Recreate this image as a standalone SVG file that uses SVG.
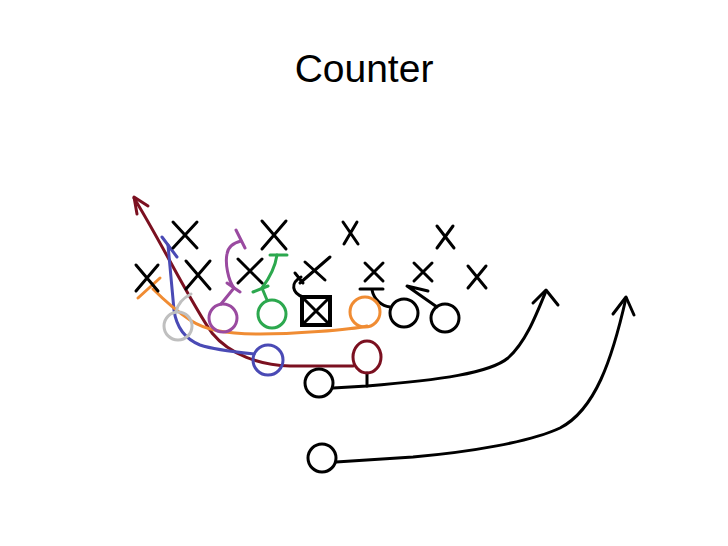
<svg xmlns="http://www.w3.org/2000/svg" width="728" height="546" viewBox="0 0 728 546">
<style>
.x{fill:none;stroke:#000;stroke-width:3;stroke-linecap:round}
.o{fill:none;stroke-width:3}
.k{stroke:#000}
.ln{fill:none;stroke-width:3;stroke-linecap:round;stroke-linejoin:round}
.title{font-family:"Liberation Sans","Open Sans",sans-serif;font-size:39px;fill:#000}
</style>
<rect width="728" height="546" fill="#fff"/>
<text class="title" x="364" y="82" text-anchor="middle">Counter</text>

<g id="connectors">
  <!-- maroon -->
  <path class="ln" stroke="#7b1020" d="M353,366 L290,366 C260,365 230,355 212,333 C192,305 160,240 134,198"/>
  <path class="ln" stroke="#7b1020" d="M148,206 L134,197 L137,214"/>
  <!-- blue -->
  <path class="ln" stroke="#4a4ab5" d="M254,354 C235,352 215,350 200,345 C183,338 176,325 174,310 L168,245"/>
  <path class="ln" stroke="#4a4ab5" d="M162,237 L177,257"/>
  <!-- orange -->
  <path class="ln" stroke="#f08c33" d="M367,326 C350,330 290,334 260,334 C225,334 205,330 190,320 C175,310 162,298 153,289"/>
  <path class="ln" stroke="#f08c33" d="M138,298 L160,278"/>
  <!-- gray -->
  <path class="ln" stroke="#bfbfbf" d="M176,312 C178,302 185,297 191,294"/>
  <!-- purple -->
  <path class="ln" stroke="#9a4aa0" d="M221,304 L234,288 C228,280 225,263 227,254 C228,247 233,243 241,241"/>
  <path class="ln" stroke="#9a4aa0" d="M236,230 L245,248 M227,283 L240,292"/>
  <!-- green -->
  <path class="ln" stroke="#2ca84e" d="M267,300 L262,288 C268,280 275,268 277,255"/>
  <path class="ln" stroke="#2ca84e" d="M270,255 L287,255 M253,292 L268,286"/>
  <!-- center -->
  <path class="ln" stroke="#000" d="M303,297 C292,293 290,283 301,277"/>
  <path class="ln" stroke="#000" d="M295,273 L303,283"/>
  <!-- guard right -->
  <path class="ln" stroke="#000" d="M360,289 L383,289 M372,290 C374,300 382,306 390,307"/>
  <!-- tackle right -->
  <path class="ln" stroke="#000" d="M437,307 L407,286 L428,291"/>
  <!-- QB route -->
  <path class="ln" stroke="#000" d="M333,388 L367,386 C440,380 490,373 508,358 C525,343 535,318 546,291"/>
  <path class="ln" stroke="#000" d="M533,303 L546,290 L558,305"/>
  <path class="ln" stroke="#000" d="M367,373 L367,386"/>
  <!-- lower back route -->
  <path class="ln" stroke="#000" d="M336,462 L413,457 C470,452 530,442 560,428 C595,410 612,360 626,298"/>
  <path class="ln" stroke="#000" d="M613,314 L626,297 L634,315"/>
</g>

<g id="defense">
  <g id="d1"><path class="x" d="M173,222 L197,248 M197,222 L173,248"/></g>
  <g id="d2"><path class="x" d="M262,221 L286,249 M286,221 L262,249"/></g>
  <g id="d3"><path class="x" d="M343,222 L358,244 M357,222 L344,244"/></g>
  <g id="d4"><path class="x" d="M437,226 L454,248 M453,226 L437,248"/></g>
  <g id="d5"><path class="x" d="M136,265 L158,291 M158,265 L136,291"/></g>
  <g id="d6"><path class="x" d="M186,261 L210,289 M210,261 L186,289"/></g>
  <g id="d7"><path class="x" d="M238,259 L262,283 M262,259 L238,283"/></g>
  <g id="d8"><path class="x" d="M300,283 L330,257 M305,262 L325,280"/></g>
  <g id="d9"><path class="x" d="M365,263 L383,281 M383,263 L365,281"/></g>
  <g id="d10"><path class="x" d="M414,263 L432,281 M432,263 L414,281"/></g>
  <g id="d11"><path class="x" d="M468,266 L486,288 M486,266 L468,288"/></g>
</g>

<g id="offense">
  <g id="gray-te"><circle class="o" stroke="#bfbfbf" cx="178" cy="326" r="14"/></g>
  <g id="purple-t"><circle class="o" stroke="#9a4aa0" cx="223" cy="318" r="14"/></g>
  <g id="green-g"><circle class="o" stroke="#2ca84e" cx="272" cy="314" r="14"/></g>
  <g id="center"><rect x="302" y="297" width="28" height="28" fill="none" stroke="#000" stroke-width="4"/><path class="x" d="M304,299 L328,323 M328,299 L304,323"/></g>
  <g id="orange-g"><circle class="o" stroke="#f08c33" cx="365" cy="312" r="15"/></g>
  <g id="rt"><circle class="o k" cx="404" cy="313" r="14"/></g>
  <g id="te-r"><circle class="o k" cx="445" cy="318" r="14"/></g>
  <g id="blue-b"><circle class="o" stroke="#4a4ab5" cx="268" cy="360" r="15"/></g>
  <g id="maroon-b"><ellipse class="o" stroke="#7b1020" cx="367" cy="357" rx="14" ry="16"/></g>
  <g id="qb"><circle class="o k" cx="319" cy="383" r="14"/></g>
  <g id="rb"><circle class="o k" cx="322" cy="458" r="14"/></g>
</g>
</svg>
